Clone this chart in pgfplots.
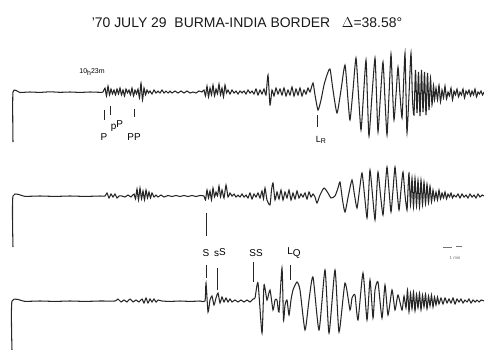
\documentclass[border=0pt]{standalone}
\usepackage{pgfplots}
\pgfplotsset{compat=1.18}
\usepackage{fontspec}
\setmainfont{Liberation Sans}
\begin{document}
\begin{tikzpicture}
\begin{axis}[
  width=484bp, height=350bp, scale only axis,
  xmin=0, xmax=484, ymin=0, ymax=350, y dir=reverse,
  hide axis, clip=false,
  trace/.style={black!85, line width=1.05bp, smooth, tension=0.35, mark=none},
  tick/.style={black!85, line width=0.9bp, sharp plot, mark=none},
]
% ---------- trace 1 ----------
\addplot[trace] coordinates {
(13,142)(13,92)(20,92.5)(30,92)(40,92.4)(50,91.8)(60,92.3)(70,92)(80,92.4)(90,92)(100,92.3)(103,92)
(105,88)(106.5,96)(108,86)(109.5,95)(111,89)(112.5,94)(114,90)(115.5,95)(117,89)(118.5,94)(120,88)(121.5,95)
(123,90)(124.5,96)(126,89)(127.5,93)(129,90)(130.5,95)(132,88)(133.5,96)(135,90)(136.5,94)(138,89)(139.5,98)
(141,83)(142.5,100)(144,88)(145.5,95)(147,90)(148.5,93)(150,91)(152,94)(154,90)(156,93)(158,91)(160,93)
(162,90)(164,93)(166,91)(168,93)(170,91)(172,93)(175,91)(178,93)(181,91)(184,93)(187,91)(190,93)(193,92)
(196,93)(199,91)(202,92)(204,90)(205.5,96)(207,86)(208.5,97)(210,88)(211.5,95)(213,85)(214.5,96)(216,89)
(217.5,94)(219,84)(220.5,95)(222,88)(223.5,97)(225,85)(226.5,93)(228,90)(230,94)(232,90)(234,93)(236,91)
(238,94)(240,91)(242,93)(244,91)(246,94)(248,90)(250,93)(252,91)(254,94)(256,89)(258,95)(260,90)(262,94)
(264,89)(266,95)(268,75)(270,105)(272,90)(274,96)(276,88)(278,94)(280,89)(282,95)(284,88)(286,96)(288,90)
(290,95)(292,87)(294,96)(296,89)(298,95)(300,88)(302,96)(304,90)(306,94)(308,88)(310,92)(313,83)(315,95)
(318,110)(321,100)(324,85)(327,75)(330,69)(333,90)(337,113)(341,90)(345,65)(348,100)(350,120)(353,90)
(356,58)(358.5,95)(361,130)(363.5,95)(366,60)(367.5,100)(369,136)(372,95)(375,58)(376.5,95)(378,132)
(380.5,95)(383,62)(385,100)(387,135)(389,95)(391,54)(392.5,90)(394,120)(396,95)(398,67)(400,95)(402,118)
(403.5,85)(405,53)(406,95)(407,133)(409,95)(411,53)(412.5,100)(414,115)(415.5,70)(417,113)(418.5,72)
(420,116)(421.5,70)(423,112)(424.5,72)(426,115)(427.5,73)(429,110)(430.5,78)(432,105)(433.5,85)(434.5,100)
(436,88)(437.5,100)(439,85)(440.5,102)(442,90)(443.5,98)(445,86)(446.5,99)(448,92)(449.5,96)(451,88)
(452.5,100)(454,91)(455.5,95)(457,89)(458.5,97)(460,92)(461.5,95)(463,89)(464.5,98)(466,91)(467.5,94)
(469,90)(470.5,96)(472,91)(473.5,95)(475,89)(476.5,97)(478,92)(479.5,94)(481,91)(482.5,95)(484,92)
};
% ---------- trace 2 ----------
\addplot[trace] coordinates {
(13,247)(13,196)(25,196.4)(40,196)(55,196.4)(70,196)(85,196.4)(100,196)(105,196)(107,193)(109,198)
(111,194)(113,197)(115,194)(117,198)(119,196)(122,196)(125,197)(128,195)(131,197)(134,194)(135.5,199)
(137,189)(138.5,200)(140,188)(141.5,199)(143,191)(144.5,200)(146,190)(147.5,198)(149,192)(150.5,198)
(152,193)(154,197)(156,195)(158,197)(161,195)(164,197)(168,195.5)(172,196.5)(176,195.5)(180,196.5)
(184,195.5)(188,196.5)(192,195.5)(196,196.5)(200,195.5)(204,196)(205.5,200)(207,190)(208.5,198)(210,191)
(211.5,200)(213,188)(214.5,197)(216,192)(217.5,196)(219,186)(220.5,197)(222,190)(224,198)(226,185)
(228,197)(230,193)(232,196)(234,194)(236,197)(238,195)(240,197)(242,194)(244,197)(246,195)(248,198)
(250,193)(252,199)(254,194)(256,197)(258,193)(260,198)(262,191)(263.5,199)(265,188)(267,200)(270,205)
(271.5,190)(273,183)(275,200)(277,192)(279,199)(281,190)(283,200)(285,192)(287,198)(289,190)(291,200)
(293,193)(295,199)(297,191)(299,198)(301,194)(303,197)(305,193)(307,199)(309,192)(311,197)(313,194)
(315,197)(317,203)(320,195)(324,188)(328,193)(331,198)(335,196)(338,188)(340,182)(342.5,200)(345,212)
(348.5,195)(352,180)(354.5,195)(357,208)(359.5,190)(362,173)(364.5,195)(367,218)(368.5,195)(370,170)
(372.5,195)(375,220)(376.5,195)(378,172)(380.5,195)(383,215)(385,190)(387,167)(389,190)(391,212)
(393,190)(395,167)(397,190)(399,210)(401,190)(403,172)(405,195)(407,210)(408,190)(409,173)(410.5,205)
(412,178)(413.5,207)(415,178)(416.5,206)(418,180)(419.5,207)(421,180)(422.5,205)(424,182)(425.5,204)
(427,184)(428.5,203)(430,186)(431.5,202)(433,190)(434.5,200)(436,192)(437.5,200)(439,190)(440.5,199)
(442,193)(443.5,198)(445,192)(446.5,199)(448,194)(449.5,197)(451,193)(452.5,198)(454,195)(456,197)
(458,194)(460,198)(462,194)(464,197)(466,195)(468,198)(470,194)(472,197)(474,195)(476,198)(478,194)
(480,197)(482,195)(484,196)
};
% ---------- trace 3 ----------
\addplot[trace] coordinates {
(12,350)(12,301)(25,301.4)(40,301)(55,301.4)(70,301)(85,301.4)(100,301)(115,301)(118,299)(121,302)
(124,300)(127,302)(130,299)(133,302)(136,300)(139,302)(142,299)(144,303)(146,298)(148,303)(150,299)
(152,302)(154,299)(156,302)(158,300)(162,301)(170,301.4)(180,301)(190,301.4)(200,301)(205,301)(206,283)
(208,312)(210,300)(212,296)(214,305)(216,298)(218,293)(220,303)(222,297)(224,302)(226,298)(228,302)
(230,299)(232,302)(235,300)(238,302)(241,300)(244,302)(247,300)(250,302)(253,299)(255,298)(258,283)
(262,333)(264,285)(267,300)(270,290)(273,310)(275,300)(277,300)(279,312)(282,268)(283.5,320)(285,305)
(287,300)(289,315)(291,300)(293,290)(297,282)(300,290)(305,330)(309,300)(313,277)(319,330)(325,270)
(329,333)(335,270)(339,332)(345,283)(350,310)(352,298)(355,295)(358,320)(363,273)(367,320)(370,280)
(373,318)(375,290)(378,282)(382,318)(385,285)(388,315)(392,290)(395,310)(398,295)(402,310)(404,296)
(406,308)(407.5,290)(409,312)(410.5,293)(412,309)(413.5,292)(415,311)(416.5,294)(418,308)(419.5,293)
(421,310)(422.5,295)(424,307)(425.5,294)(427,309)(428.5,296)(430,306)(431.5,295)(433,307)(434.5,297)
(436,305)(437.5,297)(439,304)(441,298)(443,304)(445,298)(447,303)(449,299)(451,303)(453,298)(455,304)
(457,299)(459,302)(461,299)(463,303)(465,300)(467,302)(469,299)(471,303)(473,300)(475,302)(477,300)
(479,302)(481,300)(484,301)
};
% ---------- phase marks ----------
\addplot[tick] coordinates {(104,110)(104,120)};
\addplot[tick] coordinates {(110,106)(110,115)};
\addplot[tick] coordinates {(134,109)(134,117)};
\addplot[tick] coordinates {(317,115)(317,127)};
\addplot[tick] coordinates {(206,213)(206,236)};
\addplot[tick] coordinates {(206,265)(206,278)};
\addplot[tick] coordinates {(217,268)(217,290)};
\addplot[tick] coordinates {(253,262)(253,282)};
\addplot[tick] coordinates {(290,265)(290,280)};
% scale bar
\addplot[tick, line width=0.8bp, black!55] coordinates {(443,247)(452,247)};
\addplot[tick, line width=0.8bp, black!55] coordinates {(456,246.5)(462,246.5)};
% ---------- texts ----------
\node[font=\fontsize{14}{14}\selectfont, black!90] at (axis cs:247,23) {'70 JULY 29\ \ BURMA-INDIA BORDER\ \ \ $\Delta$=38.58\textdegree};
\node[font=\fontsize{7}{7}\selectfont] at (axis cs:92,72) {10\raisebox{-0.4ex}{h}23m};
\node[font=\fontsize{10}{10}\selectfont] at (axis cs:104,137) {P};
\node[font=\fontsize{10}{10}\selectfont] at (axis cs:117,126) {\raisebox{-0.4ex}{p}P};
\node[font=\fontsize{10}{10}\selectfont] at (axis cs:134,137) {PP};
\node[font=\fontsize{9}{9}\selectfont] at (axis cs:321,140) {L\raisebox{-0.3ex}{\scriptsize R}};
\node[font=\fontsize{10}{10}\selectfont] at (axis cs:206,253) {S};
\node[font=\fontsize{10}{10}\selectfont] at (axis cs:220,253) {\raisebox{-0.2ex}{s}S};
\node[font=\fontsize{10}{10}\selectfont] at (axis cs:256,253) {SS};
\node[font=\fontsize{10}{10}\selectfont] at (axis cs:294,253) {L\raisebox{-0.2ex}{Q}};
\node[font=\fontsize{4.5}{4.5}\selectfont, black!55] at (axis cs:455,258) {1 min};
\end{axis}
\pgfresetboundingbox
\path[use as bounding box] (current axis.south west) rectangle (current axis.north east);
\end{tikzpicture}
\end{document}
